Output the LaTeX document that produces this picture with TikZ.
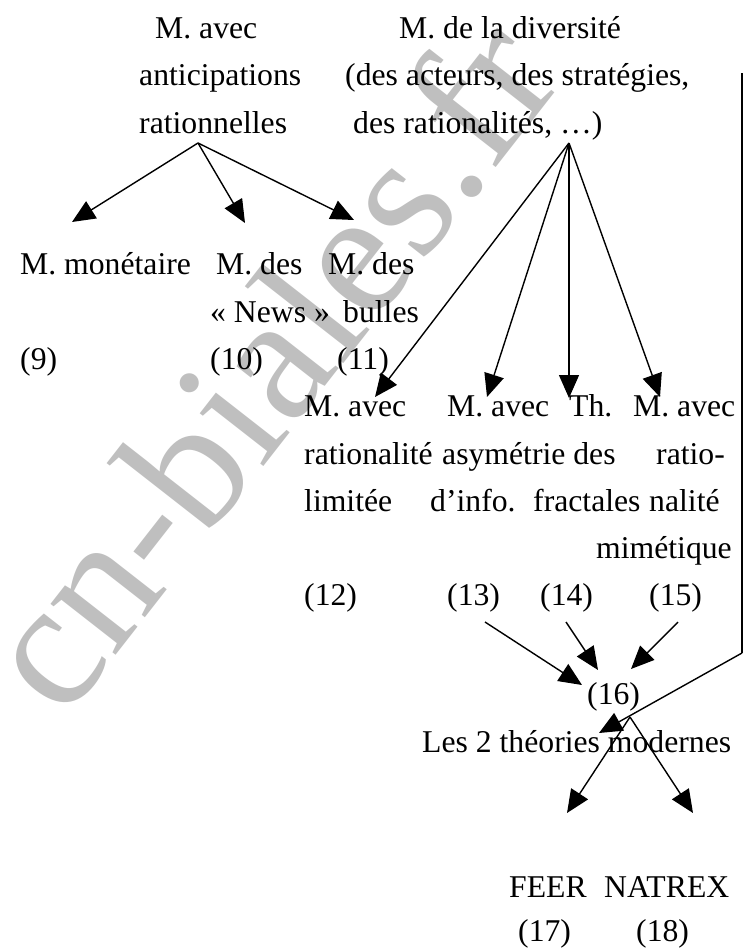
\documentclass[tikz,border=0pt]{standalone}
\usepackage{fontspec}
\setmainfont{Liberation Serif}
\usetikzlibrary{arrows.meta}
\begin{document}
\begin{tikzpicture}[x=1pt,y=-1pt,
  lbl/.style={anchor=base west, inner sep=0pt, font=\fontsize{31.7}{38}\selectfont},
  arr/.style={line width=1.4pt, -{Triangle[length=23pt,width=20pt]}},
  thickln/.style={line width=2pt},
  wmark/.style={rotate=52, text=black!25, inner sep=0pt, font=\fontsize{180}{180}\selectfont}]
\useasboundingbox (0,0) rectangle (746,951);
% watermark
\node[wmark] (wm) at (266,362) {cn-biales.fr};
% top texts
\node[lbl] (ra1) at (155,38) {M. avec};
\node[lbl] (ra2) at (139,85.5) {anticipations};
\node[lbl] (ra3) at (139,133) {rationnelles};
\node[lbl] (dv1) at (399,38) {M. de la diversité};
\node[lbl] (dv2) at (345,85.5) {(des acteurs, des stratégies,};
\node[lbl] (dv3) at (353,133) {des rationalités, …)};
% second level
\node[lbl] (mon) at (20,274.5) {M. monétaire};
\node[lbl] (nw1) at (216,274.5) {M. des};
\node[lbl] (bu1) at (328,274.5) {M. des};
\node[lbl] (nw2) at (210,322) {« News »};
\node[lbl] (bu2) at (343,322) {bulles};
\node[lbl] (n9) at (20,369) {(9)};
\node[lbl] (n10) at (210,369) {(10)};
\node[lbl] (n11) at (337,369) {(11)};
% diversity children
\node[lbl] (rl1) at (304,416.5) {M. avec};
\node[lbl] (rl2) at (304,464) {rationalité};
\node[lbl] (rl3) at (304,511) {limitée};
\node[lbl] (as1) at (447,416.5) {M. avec};
\node[lbl] (as2) at (442,464) {asymétrie des};
\node[lbl] (as3) at (430,511) {d’info.};
\node[lbl] (fr1) at (569,416.5) {Th.};
\node[lbl] (fr2) at (533,511) {fractales};
\node[lbl] (mi1) at (633,416.5) {M. avec};
\node[lbl] (mi2) at (656,464) {ratio-};
\node[lbl] (mi3) at (649,511) {nalité};
\node[lbl] (mi4) at (596,558.5) {mimétique};
\node[lbl] (n12) at (304,605.5) {(12)};
\node[lbl] (n13) at (447,605.5) {(13)};
\node[lbl] (n14) at (540,605.5) {(14)};
\node[lbl] (n15) at (649,605.5) {(15)};
% lower part
\node[lbl] (n16) at (587,704) {(16)};
\node[lbl] (mod) at (422,752) {Les 2 théories modernes};
\node[lbl] (feer) at (509,897) {FEER};
\node[lbl] (natrex) at (604,897) {NATREX};
\node[lbl] (n17) at (518,941) {(17)};
\node[lbl] (n18) at (636,941) {(18)};
% connector points
\coordinate (oA) at (198,143);
\coordinate (tA1) at (72,222);
\coordinate (tA2) at (245,223);
\coordinate (tA3) at (354,220);
\coordinate (oB) at (569,143);
\coordinate (tB1) at (375,397);
\coordinate (tB2) at (487,397);
\coordinate (tB3) at (569,398);
\coordinate (tB4) at (660,397);
\coordinate (s13) at (485,622);
\coordinate (e13) at (582,685);
\coordinate (s14) at (566,622);
\coordinate (e14) at (598,670);
\coordinate (s15) at (678,622);
\coordinate (e15) at (631,669);
\coordinate (r1) at (742,73);
\coordinate (r2) at (742,653);
\coordinate (e16) at (599,733);
\coordinate (oC) at (630,717);
\coordinate (tC1) at (567,813);
\coordinate (tC2) at (693,813);
% connectors
\draw[arr] (oA) -- (tA1);
\draw[arr] (oA) -- (tA2);
\draw[arr] (oA) -- (tA3);
\draw[arr] (oB) -- (tB1);
\draw[arr] (oB) -- (tB2);
\draw[arr] (oB) -- (tB3);
\draw[arr] (oB) -- (tB4);
\draw[arr] (s13) -- (e13);
\draw[arr] (s14) -- (e14);
\draw[arr] (s15) -- (e15);
\draw[thickln] (r1) -- (r2);
\draw[arr] (r2) -- (e16);
\draw[arr] (oC) -- (tC1);
\draw[arr] (oC) -- (tC2);
\end{tikzpicture}
\end{document}
